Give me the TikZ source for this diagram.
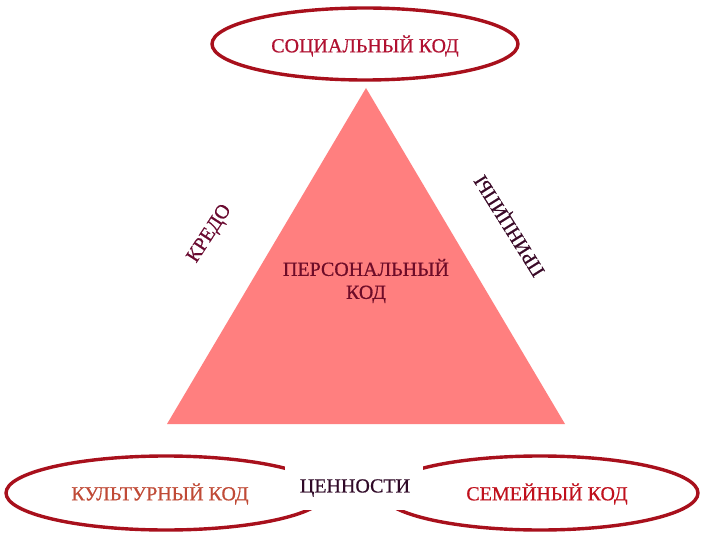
\documentclass[tikz,border=0pt]{standalone}
\usepackage{fontspec}
\setmainfont{Liberation Serif}[FakeBold=0.6]
\usetikzlibrary{shapes.geometric}
\definecolor{ellred}{HTML}{A8101C}
\definecolor{trifill}{HTML}{FF7F7F}
\definecolor{socred}{HTML}{B01030}
\definecolor{kulred}{HTML}{C04A36}
\definecolor{semred}{HTML}{C0101C}
\definecolor{valpurp}{HTML}{300A28}
\definecolor{persred}{HTML}{6E0C28}
\definecolor{credo}{HTML}{6A0A30}
\definecolor{princ}{HTML}{3A0A28}
\tikzset{
  codeell/.style={ellipse, draw=ellred, line width=3.4pt, fill=white, inner sep=0pt},
  lbl/.style={font=\fontsize{20}{23}\selectfont, inner sep=0pt}
}
\begin{document}
\begin{tikzpicture}[x=1pt,y=-1pt]
\useasboundingbox[fill=white] (0,0) rectangle (720,540);
% triangle
\coordinate (apex) at (366,88);
\coordinate (bl) at (167,424);
\coordinate (br) at (565,424);
\fill[trifill] (apex) -- (br) -- (bl) -- cycle;
% top ellipse
\node[codeell, minimum width=306pt, minimum height=72pt] (soc) at (365,44) {};
\node[lbl, text=socred] (soct) at (365,46) {СОЦИАЛЬНЫЙ КОД};
% bottom ellipses
\node[codeell, minimum width=320pt, minimum height=74pt] (kul) at (166,493) {};
\node[codeell, minimum width=316pt, minimum height=74pt] (sem) at (540,493) {};
% white box with values
\node[fill=white, minimum width=138pt, minimum height=48pt, inner sep=0pt] (valbox) at (354,486) {};
\node[lbl, text=valpurp] (val) at (355,488) {ЦЕННОСТИ};
\node[lbl, text=kulred] (kult) at (160,494) {КУЛЬТУРНЫЙ КОД};
\node[lbl, text=semred] (semt) at (547,494) {СЕМЕЙНЫЙ КОД};
% personal code
\node[lbl, text=persred, align=center] (pers) at (366,281) {ПЕРСОНАЛЬНЫЙ\\КОД};
% side labels
\node[lbl, text=credo, rotate=57] (cred) at (210,234) {КРЕДО};
\node[lbl, text=princ, rotate=122] (prin) at (511,225) {ПРИНЦИПЫ};
\end{tikzpicture}
\end{document}
